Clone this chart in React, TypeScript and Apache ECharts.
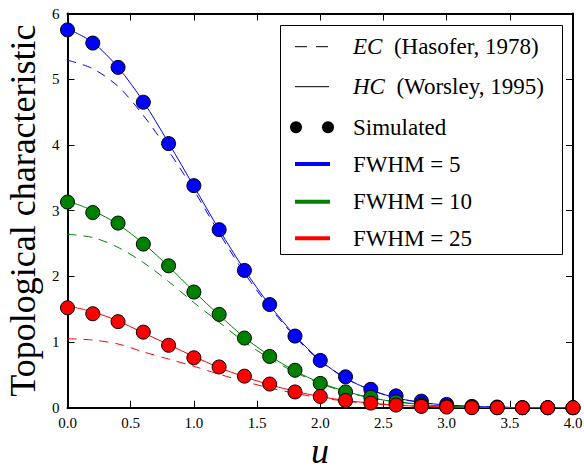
import React, { useEffect, useRef } from "react";
import * as echarts from "echarts";

const uValues = [0, 0.2, 0.4, 0.6, 0.8, 1.0, 1.2, 1.4, 1.6, 1.8, 2.0, 2.2, 2.4, 2.6, 2.8, 3.0, 3.2, 3.4, 3.6, 3.8, 4.0];

const simBlue = [5.75, 5.55, 5.18, 4.65, 4.02, 3.38, 2.71, 2.09, 1.57, 1.09, 0.72, 0.47, 0.28, 0.18, 0.1, 0.05, 0.02, 0.01, 0.0, 0.0, 0.0];
const hcBlue = [5.77, 5.56, 5.18, 4.66, 4.03, 3.37, 2.71, 2.1, 1.56, 1.1, 0.72, 0.45, 0.27, 0.15, 0.08, 0.04, 0.02, 0.01, 0.0, 0.0, 0.0];
const ecBlue = [5.29, 5.16, 4.89, 4.45, 3.91, 3.31, 2.66, 2.05, 1.53, 1.08, 0.71, 0.45, 0.27, 0.15, 0.08, 0.04, 0.02, 0.01, 0.0, 0.0, 0.0];

const simGreen = [3.13, 2.97, 2.81, 2.49, 2.16, 1.76, 1.42, 1.06, 0.78, 0.57, 0.37, 0.24, 0.16, 0.09, 0.04, 0.02, 0.01, 0.0, 0.0, 0.0, 0.0];
const hcGreen = [3.15, 3.0, 2.79, 2.5, 2.15, 1.77, 1.41, 1.07, 0.79, 0.56, 0.38, 0.25, 0.15, 0.09, 0.05, 0.02, 0.01, 0.0, 0.0, 0.0, 0.0];
const ecGreen = [2.64, 2.59, 2.44, 2.21, 1.92, 1.6, 1.3, 1.0, 0.75, 0.54, 0.37, 0.24, 0.15, 0.09, 0.05, 0.02, 0.01, 0.0, 0.0, 0.0, 0.0];

const simRed = [1.52, 1.43, 1.31, 1.15, 0.95, 0.76, 0.62, 0.48, 0.36, 0.24, 0.17, 0.11, 0.07, 0.04, 0.02, 0.01, 0.0, 0.0, 0.0, 0.0, 0.0];
const hcRed = [1.55, 1.46, 1.32, 1.14, 0.96, 0.78, 0.61, 0.47, 0.35, 0.25, 0.17, 0.11, 0.07, 0.04, 0.02, 0.01, 0.0, 0.0, 0.0, 0.0, 0.0];
const ecRed = [1.05, 1.03, 0.97, 0.85, 0.74, 0.63, 0.51, 0.4, 0.3, 0.22, 0.15, 0.1, 0.06, 0.04, 0.02, 0.01, 0.0, 0.0, 0.0, 0.0, 0.0];

const fwhmLabels = ["FWHM = 5", "FWHM = 10", "FWHM = 25"];
const colors = ["#0000ff", "#008000", "#ff0000"];
const xTitle = "u";
const yTitle = "Topological characteristic";

const FONT = "Liberation Serif";

function pairs(ys: number[]) {
  return uValues.map((u, i) => [u, ys[i]]);
}

export default function App() {
  const ref = useRef<HTMLDivElement>(null);
  useEffect(() => {
    if (!ref.current) return;
    const chart = echarts.init(ref.current, null, { renderer: "svg" });
    const groups = [
      { ec: ecBlue, hc: hcBlue, sim: simBlue },
      { ec: ecGreen, hc: hcGreen, sim: simGreen },
      { ec: ecRed, hc: hcRed, sim: simRed },
    ];
    const series: any[] = [];
    groups.forEach((g, k) => {
      series.push({
        type: "line",
        name: "EC " + fwhmLabels[k],
        data: pairs(g.ec),
        smooth: 0.3,
        showSymbol: false,
        lineStyle: { color: colors[k], width: 1, type: [9, 7] },
        z: 2,
      });
      series.push({
        type: "line",
        name: "HC " + fwhmLabels[k],
        data: pairs(g.hc),
        smooth: 0.3,
        showSymbol: false,
        lineStyle: { color: colors[k], width: 1 },
        z: 2,
      });
    });
    groups.forEach((g, k) => {
      series.push({
        type: "scatter",
        name: "Simulated " + fwhmLabels[k],
        data: pairs(g.sim),
        symbol: "circle",
        symbolSize: 14,
        itemStyle: { color: colors[k], borderColor: "#000", borderWidth: 1, opacity: 1 },
        z: 3 + k,
      });
    });

    const axisCommon = {
      axisLine: { show: true, onZero: false, lineStyle: { color: "#000", width: 2 } },
      axisTick: { show: true, inside: true, length: 7, lineStyle: { color: "#000", width: 1 } },
      splitLine: { show: false },
    };

    const lx = 295, rx = 329, tx = 353;
    const rows = [46.7, 86.7, 127.3, 164, 201.7, 238.3];
    const FS = 23;
    const textStyleBase = { fontFamily: FONT, fontSize: FS, fill: "#000" };

    const graphic: any[] = [
      {
        type: "rect",
        shape: { x: 280.5, y: 25.5, width: 282, height: 229 },
        style: { fill: "#fff", stroke: "#000", lineWidth: 1 },
        z: 10,
      },
      {
        type: "line",
        shape: { x1: lx, y1: rows[0], x2: rx, y2: rows[0] },
        style: { stroke: "#000", lineWidth: 1, lineDash: [12, 9] },
        z: 11,
      },
      {
        type: "text",
        x: tx,
        y: rows[0],
        style: {
          text: "{i|EC}{r|  (Hasofer, 1978)}",
          verticalAlign: "middle",
          rich: {
            i: { fontFamily: FONT, fontSize: FS, fontStyle: "italic", fill: "#000" },
            r: { fontFamily: FONT, fontSize: FS, fill: "#000" },
          },
        },
        z: 11,
      },
      {
        type: "line",
        shape: { x1: lx, y1: rows[1], x2: rx, y2: rows[1] },
        style: { stroke: "#000", lineWidth: 1 },
        z: 11,
      },
      {
        type: "text",
        x: tx,
        y: rows[1],
        style: {
          text: "{i|HC}{r|  (Worsley, 1995)}",
          verticalAlign: "middle",
          rich: {
            i: { fontFamily: FONT, fontSize: FS, fontStyle: "italic", fill: "#000" },
            r: { fontFamily: FONT, fontSize: FS, fill: "#000" },
          },
        },
        z: 11,
      },
      { type: "circle", shape: { cx: 296, cy: rows[2], r: 6 }, style: { fill: "#000" }, z: 11 },
      { type: "circle", shape: { cx: 328, cy: rows[2], r: 6 }, style: { fill: "#000" }, z: 11 },
      {
        type: "text",
        x: tx,
        y: rows[2],
        style: { ...textStyleBase, text: "Simulated", verticalAlign: "middle" },
        z: 11,
      },
      {
        type: "text",
        x: 320,
        y: 451,
        style: {
          text: xTitle,
          fontFamily: FONT,
          fontSize: 36,
          fontStyle: "italic",
          fill: "#000",
          align: "center",
          verticalAlign: "middle",
        },
        z: 11,
      },
    ];
    fwhmLabels.forEach((lab, k) => {
      graphic.push({
        type: "line",
        shape: { x1: lx, y1: rows[3 + k], x2: rx + 1, y2: rows[3 + k] },
        style: { stroke: colors[k], lineWidth: 4 },
        z: 11,
      });
      graphic.push({
        type: "text",
        x: tx,
        y: rows[3 + k],
        style: { ...textStyleBase, text: lab, verticalAlign: "middle" },
        z: 11,
      });
    });

    chart.setOption({
      animation: false,
      backgroundColor: "#fff",
      grid: {
        left: 67.5,
        top: 13.5,
        width: 505.5,
        height: 394.2,
        containLabel: false,
        outerBoundsMode: "none",
      },
      xAxis: [
        {
          type: "value",
          min: 0,
          max: 4,
          interval: 0.5,
          position: "bottom",
          ...axisCommon,
          axisLabel: {
            show: true,
            margin: 8,
            color: "#000",
            fontFamily: FONT,
            fontSize: 15,
            formatter: (v: number) => v.toFixed(1),
          },
        },
        {
          type: "value",
          min: 0,
          max: 4,
          interval: 0.5,
          position: "top",
          ...axisCommon,
          axisLabel: { show: false },
        },
      ],
      yAxis: [
        {
          type: "value",
          min: 0,
          max: 6,
          interval: 1,
          position: "left",
          ...axisCommon,
          axisLabel: {
            show: true,
            margin: 8,
            color: "#000",
            fontFamily: FONT,
            fontSize: 15,
          },
          name: yTitle,
          nameLocation: "middle",
          nameGap: 23,
          nameTextStyle: { fontFamily: FONT, fontSize: 36, color: "#000" },
        },
        {
          type: "value",
          min: 0,
          max: 6,
          interval: 1,
          position: "right",
          ...axisCommon,
          axisLabel: { show: false },
        },
      ],
      series,
      graphic,
    });
    return () => chart.dispose();
  }, []);
  return (
    <div
      ref={ref}
      style={{ position: "fixed", left: 0, top: 0, width: 584, height: 471, background: "#fff" }}
    />
  );
}
